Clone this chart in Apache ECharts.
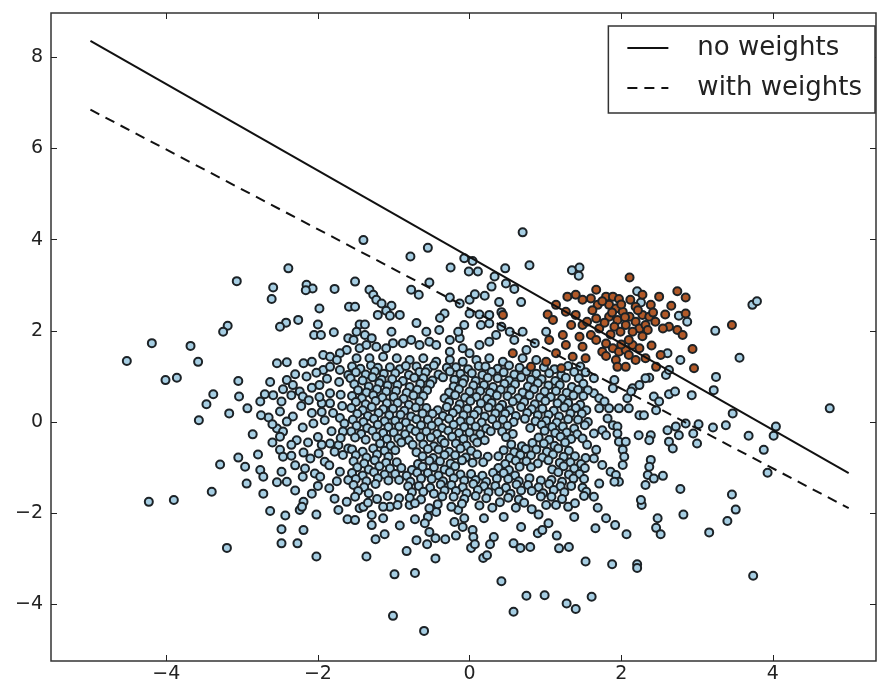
<!DOCTYPE html>
<html><head><meta charset="utf-8">
<script src="https://cdn.jsdelivr.net/npm/echarts@6/dist/echarts.min.js"></script>
<style>html,body{margin:0;padding:0;background:#fff}#c{width:878px;height:686px}</style>
</head><body><div id="c"></div>
<script>
const xTicks = [-4, -2, 0, 2, 4];
const yTicks = [-4, -2, 0, 2, 4, 6, 8];
const lineX = [-5, 5];
const noWeights = [8.36, -1.12];
const withWeights = [6.85, -1.89];
const seriesNames = ['no weights', 'with weights'];

const bluePoints = [
[-2.39,3.37],[-3.07,3.09],[-2.59,2.95],[-2.61,2.70],[-2.15,3.01],[-2.07,2.93],[-2.16,2.89],[-1.78,2.92],[-1.98,2.49],[-2.26,2.24],[-2.42,2.18],[-2.50,2.09],[-2.00,2.14],[-2.05,1.91],[-1.96,1.91],[-1.79,1.97],[-3.19,2.11],[-3.25,1.98],[-4.19,1.73],[-3.68,1.67],[-4.52,1.34],[-3.58,1.32],[-1.60,1.84],[-1.62,1.58],[-1.71,1.51],[-1.93,1.47],[-1.84,1.43],[-1.75,1.36],[-2.54,1.29],[-2.41,1.31],[-2.19,1.29],[-2.08,1.32],[-1.59,2.53],
[-4.01,0.92],[-3.86,0.97],[-3.05,0.90],[-3.38,0.61],[-3.47,0.39],[-3.04,0.56],[-3.57,0.04],[-3.17,0.19],[-2.93,0.30],[-2.86,-0.27],[-2.76,0.45],[-2.70,0.61],[-2.59,0.59],[-2.63,0.88],[-2.46,0.72],[-2.41,0.92],[-2.33,0.81],[-2.35,0.59],[-2.24,0.67],[-2.20,0.56],[-2.08,0.75],[-1.98,0.81],[-1.93,1.14],[-1.84,1.21],[-1.71,1.14],[-1.60,1.03],
[-1.84,0.63],[-1.95,0.41],[-1.84,0.41],[-2.50,0.23],[-2.33,0.12],[-2.41,0.01],[-2.54,-0.14],[-2.46,-0.21],[-2.50,-0.32],[-2.28,-0.40],[-2.06,-0.03],[-1.91,0.04],[-1.71,0.09],[-1.65,-0.03],[-1.67,-0.21],[-1.84,-0.47],[-1.73,-0.51],[-1.78,-0.65],[-1.67,-0.72],[-1.60,-0.58],[-3.05,-0.78],[-2.96,-0.98],[-2.79,-0.71],[-2.76,-1.05],[-2.72,-1.20],[-3.29,-0.93],[-2.50,-0.61],[-2.46,-0.76],[-2.35,-0.74],[-2.48,-1.09],[-2.54,-1.32],[-2.41,-1.31],[-2.19,-0.67],[-2.10,-0.80],[-1.99,-0.69],[-1.91,-0.87],[-2.17,-1.02],[-2.04,-1.13],[-1.97,-1.20],[-1.71,-1.09],[-1.60,-1.27],[-2.94,-1.35],[-3.40,-1.53],[-2.72,-1.57],[-4.23,-1.75],[-3.90,-1.71],[-2.08,-1.57],[-2.19,-1.75],[-1.78,-1.68],[-1.62,-1.75],
[-2.30,1.05],[-2.15,1.00],[-2.02,1.08],[-1.88,0.95],[-1.72,0.88],[-2.48,0.45],[-2.12,0.48],[-1.98,0.55],[-1.70,0.60],[-1.68,0.35],[-2.22,0.35],[-2.08,0.20],[-1.95,0.22],[-1.80,0.20],[-2.20,-0.12],[-1.82,-0.20],[-2.00,-0.33],[-2.13,-0.45],[-1.95,-0.50],[-2.35,-0.50],[-2.60,-0.45],[-2.30,-0.95],[-2.20,-1.20],[-1.85,-0.95],[-1.75,-1.30],[-1.85,-1.45],[-2.30,-1.50],[-2.00,-1.40],[-1.70,-0.35],[-2.65,0.10],[-2.75,0.15],[-2.60,-0.05],
[-2.63,-1.95],[-2.43,-2.05],[-2.24,-1.93],[-2.21,-1.86],[-2.02,-2.03],[-1.73,-1.93],[-1.61,-2.13],[-2.48,-2.35],[-2.19,-2.37],[-2.48,-2.66],[-2.27,-2.66],[-3.20,-2.76],[-2.02,-2.95],
[-1.36,-2.95],[-0.99,-3.34],[-0.72,-3.31],[-1.01,-4.25],[-0.60,-4.58],[-0.83,-2.83],[-0.45,-2.99],[-1.24,-2.57],[-1.12,-2.46],[-0.92,-2.27],[-0.70,-2.59],[-0.56,-2.68],[-0.45,-2.55],[-0.32,-2.57],[-0.18,-2.49],[-0.72,-2.13],[-0.55,-2.08],[-0.44,-1.97],[-0.59,-2.22],[-0.53,-2.41],[-1.45,-1.89],[-1.51,-2.15],[-1.29,-2.26],[-1.14,-2.11],[-1.29,-2.04],[-1.05,-1.86],[-0.20,-2.19],[-0.09,-2.30],[-0.07,-2.11],[-0.15,-1.93],[0.04,-2.37],[0.05,-2.52],[0.02,-2.76],[0.07,-2.68],[0.18,-2.98],[0.23,-2.92],[0.19,-2.11],[0.30,-1.88],[0.45,-2.08],[0.61,-1.88],[0.32,-2.52],[0.27,-2.68],[0.42,-3.49],[0.58,-4.16],[0.58,-2.66],[0.67,-2.76],[0.80,-2.74],[0.68,-2.30],[0.75,-3.81],[0.99,-3.80],[0.82,-1.91],[0.91,-2.03],[0.90,-2.44],[0.96,-2.37],[1.04,-2.22],[1.15,-2.49],[1.18,-2.77],[1.31,-2.74],[1.28,-3.98],[1.40,-4.10],[1.61,-3.83],[1.38,-2.08],[1.53,-3.06],[1.69,-1.88],[1.66,-2.33],[1.80,-2.11],[1.92,-2.26],[2.07,-2.46],[1.88,-3.12],[2.21,-3.12],[2.21,-3.20],[2.27,-1.82],[2.48,-2.11],[2.46,-2.32],[2.52,-2.46],[2.82,-2.03],[3.16,-2.42],[3.40,-2.17],[3.51,-1.92],[3.74,-3.37],
[-1.40,-1.86],[-1.14,-1.86],[-0.79,-1.82],[-0.53,-1.89],[-0.24,-1.86],[1.14,-1.82],[1.30,-1.86],
[3.25,0.99],[3.22,0.70],[2.93,0.59],[2.63,0.61],[2.71,0.67],[2.43,0.56],[2.50,0.45],[2.46,0.26],[2.37,0.97],[2.59,1.03],[2.63,1.14],[3.47,0.19],[3.38,-0.07],[3.21,-0.12],[4.04,-0.10],[4.01,-0.30],[3.68,-0.30],[3.88,-0.61],[3.93,-1.11],[4.75,0.30],[3.46,-1.59],[2.78,-1.47],[2.26,-1.71],[2.85,-0.03],[2.72,-0.10],[2.61,-0.18],[2.63,-0.43],[2.68,-0.58],[2.76,-0.29],[2.95,-0.25],[3.02,-0.05],[3.00,-0.47],[2.23,-0.29],[2.39,-0.29],[2.37,-0.40],[2.39,-0.83],[2.37,-0.98],[2.35,-1.16],[2.43,-1.24],[2.55,-1.18],[2.32,-1.38],
[1.64,0.96],[1.91,0.92],[1.89,0.74],[1.64,0.63],[1.71,0.52],[1.78,0.45],[2.15,0.74],[2.24,0.81],[2.08,0.52],[2.13,0.67],[2.32,0.96],[1.71,0.30],[1.84,0.30],[1.97,0.30],[2.10,0.30],[2.24,0.15],[1.82,0.08],[2.30,0.15],[1.89,-0.07],[1.95,-0.10],[1.75,-0.18],[1.64,-0.25],[1.80,-0.29],[1.95,-0.25],[1.97,-0.43],[2.06,-0.43],[2.02,-0.61],[2.04,-0.76],[1.67,-0.61],[1.64,-0.80],[1.75,-0.94],[1.86,-1.09],[1.93,-1.16],[1.97,-1.31],[1.91,-1.31],[1.71,-1.35],[1.64,-1.64],[2.02,-0.94],
[2.21,2.87],[2.26,2.62],[3.73,2.57],[3.79,2.65],[3.24,2.00],[2.87,2.20],[2.76,2.33],[3.56,1.41],[2.61,1.51],[2.78,1.36],
[0.70,4.16],[-1.40,3.99],[-0.55,3.82],[-0.78,3.63],[-0.07,3.59],[0.04,3.53],[-0.25,3.39],[-0.01,3.30],[0.11,3.30],[0.79,3.44],[0.47,3.37],[1.35,3.33],[1.45,3.39],[1.44,3.21],[0.33,3.19],[0.48,3.04],[0.29,2.97],[0.59,2.92],[-1.51,3.08],[-0.53,3.06],[-0.77,2.90],[-0.67,2.79],[-1.32,2.90],[-1.27,2.79],[-1.23,2.68],[-1.16,2.60],[-1.51,2.53],[-1.03,2.55],[-1.10,2.44],[-1.21,2.35],[-1.05,2.33],[-0.92,2.35],[-0.26,2.73],[-0.13,2.60],[0.00,2.68],[0.07,2.80],[0.20,2.77],[-0.33,2.38],[-0.39,2.28],[0.00,2.38],[0.13,2.36],[0.26,2.35],[0.39,2.63],[0.42,2.41],[0.68,2.63],[-0.70,2.17],[-1.03,1.98],
[-1.45,2.14],[-1.38,2.14],[-1.49,1.98],[-1.38,1.91],[-1.29,1.84],[-1.53,1.80],[-1.45,1.62],[-1.36,1.69],[-1.23,1.65],[-1.10,1.62],[-1.01,1.73],[-0.88,1.73],[-0.77,1.80],[-0.66,1.69],[-0.53,1.76],[-0.44,1.69],[-0.26,1.80],[-0.13,1.84],[-0.26,1.54],[-0.09,1.62],[0.00,1.51],[0.13,1.69],[0.26,1.76],[0.35,1.91],[0.15,2.13],[0.26,2.16],[0.42,2.09],[0.53,1.98],[0.59,1.80],[0.70,1.98],[0.86,1.73],[0.75,1.58],[1.01,1.98],[-0.15,1.98],[-0.07,2.13],[-0.40,2.02],[-0.57,1.98],
[-1.49,1.40],[-1.32,1.40],[-1.14,1.43],[-0.96,1.40],[-0.79,1.36],[-0.61,1.40],[-0.44,1.32],[-0.26,1.36],[-0.09,1.32],[0.09,1.36],[0.26,1.40],[0.44,1.32],[0.70,1.40],[0.88,1.36],
[-1.55,1.22],[-1.44,1.17],[-1.30,1.24],[-1.21,1.19],[-1.05,1.20],[-0.92,1.16],[-0.84,1.23],[-0.70,1.22],[-0.55,1.17],[-0.47,1.24],[-0.30,1.19],[-0.18,1.20],[-0.02,1.16],[0.12,1.23],[0.21,1.22],[0.37,1.17],[0.52,1.24],[0.66,1.19],[0.98,1.20],[1.12,1.16],[1.30,1.23],[1.46,1.22],
[-1.50,1.09],[-1.37,1.04],[-1.25,1.11],[-1.13,1.06],[-0.98,1.07],[-0.80,1.03],[-0.66,1.10],[-0.58,1.09],[-0.41,1.04],[-0.26,1.11],[-0.12,1.06],[0.03,1.07],[0.17,1.03],[0.29,1.10],[0.45,1.09],[0.59,1.04],[0.75,1.11],[0.88,1.06],[1.05,1.07],[1.21,1.03],[1.38,1.10],[1.53,1.09],
[-1.57,0.96],[-1.41,0.91],[-1.28,0.98],[-1.16,0.93],[-1.02,0.94],[-0.88,0.90],[-0.73,0.97],[-0.61,0.96],[-0.49,0.91],[-0.35,0.98],[-0.20,0.93],[-0.07,0.94],[0.08,0.90],[0.24,0.97],[0.37,0.96],[0.52,0.91],[0.68,0.98],[0.81,0.93],[0.95,0.94],[1.13,0.90],[1.27,0.97],[1.44,0.96],
[-1.52,0.83],[-1.33,0.78],[-1.19,0.85],[-1.08,0.80],[-0.95,0.81],[-0.79,0.77],[-0.65,0.84],[-0.52,0.83],[-0.21,0.78],[-0.09,0.85],[0.05,0.80],[0.19,0.81],[0.31,0.77],[0.46,0.84],[0.60,0.83],[0.77,0.78],[0.90,0.85],[1.04,0.80],[1.19,0.81],[1.35,0.77],[1.50,0.84],
[-1.47,0.70],[-1.36,0.65],[-1.22,0.72],[-1.10,0.67],[-0.97,0.68],[-0.83,0.64],[-0.69,0.71],[-0.56,0.70],[-0.27,0.65],[-0.14,0.72],[0.00,0.67],[0.14,0.68],[0.27,0.64],[0.41,0.71],[0.55,0.70],[0.70,0.65],[0.85,0.72],[0.99,0.67],[1.14,0.68],[1.28,0.64],[1.43,0.71],[1.56,0.70],
[-1.55,0.57],[-1.42,0.52],[-1.27,0.59],[-1.15,0.54],[-1.00,0.55],[-0.87,0.51],[-0.74,0.58],[-0.61,0.57],[-0.33,0.52],[-0.19,0.59],[-0.06,0.54],[0.09,0.55],[0.23,0.51],[0.36,0.58],[0.50,0.57],[0.64,0.52],[0.79,0.59],[0.93,0.54],[1.07,0.55],[1.22,0.51],[1.37,0.58],[1.50,0.57],
[-1.50,0.44],[-1.37,0.39],[-1.24,0.46],[-1.09,0.41],[-0.95,0.42],[-0.80,0.38],[-0.66,0.45],[-0.27,0.44],[-0.13,0.39],[0.01,0.46],[0.15,0.41],[0.29,0.42],[0.43,0.38],[0.57,0.45],[0.72,0.44],[0.86,0.39],[1.00,0.46],[1.16,0.41],[1.30,0.42],[1.46,0.38],
[-1.56,0.31],[-1.41,0.26],[-1.29,0.33],[-1.14,0.28],[-1.01,0.29],[-0.86,0.25],[-0.71,0.32],[-0.57,0.31],[-0.42,0.26],[-0.30,0.33],[-0.16,0.28],[-0.03,0.29],[0.11,0.25],[0.25,0.32],[0.39,0.31],[0.53,0.26],[0.68,0.33],[0.82,0.28],[0.96,0.29],[1.11,0.25],[1.25,0.32],[1.40,0.31],[1.54,0.26],
[-1.48,0.18],[-1.34,0.13],[-1.20,0.20],[-1.06,0.15],[-0.91,0.16],[-0.77,0.12],[-0.62,0.19],[-0.49,0.18],[-0.35,0.13],[-0.22,0.20],[-0.08,0.15],[0.06,0.16],[0.20,0.12],[0.34,0.19],[0.47,0.18],[0.61,0.13],[0.76,0.20],[0.90,0.15],[1.04,0.16],[1.18,0.12],[1.33,0.19],[1.48,0.18],
[-1.54,0.05],[-1.40,0.00],[-1.26,0.07],[-1.12,0.02],[-0.98,0.03],[-0.84,-0.01],[-0.70,0.06],[-0.55,0.05],[-0.41,0.00],[-0.27,0.07],[-0.12,0.02],[0.01,0.03],[0.16,-0.01],[0.30,0.06],[0.44,0.05],[0.58,0.00],[0.73,0.07],[0.87,0.02],[1.01,0.03],[1.15,-0.01],[1.30,0.06],[1.43,0.05],[1.56,0.00],
[-1.49,-0.08],[-1.35,-0.13],[-1.21,-0.06],[-1.07,-0.11],[-0.93,-0.10],[-0.78,-0.14],[-0.64,-0.07],[-0.50,-0.08],[-0.36,-0.13],[-0.21,-0.06],[-0.07,-0.11],[0.08,-0.10],[0.22,-0.14],[0.36,-0.07],[0.50,-0.08],[0.80,-0.13],[0.95,-0.06],[1.09,-0.11],[1.23,-0.10],[1.38,-0.14],[1.52,-0.07],
[-1.56,-0.21],[-1.43,-0.26],[-1.28,-0.19],[-1.14,-0.24],[-1.00,-0.23],[-0.85,-0.27],[-0.71,-0.20],[-0.57,-0.21],[-0.43,-0.26],[-0.28,-0.19],[-0.14,-0.24],[0.00,-0.23],[0.14,-0.27],[0.28,-0.20],[0.43,-0.21],[0.57,-0.26],[0.99,-0.19],[1.13,-0.24],[1.28,-0.23],[1.42,-0.27],
[-1.51,-0.34],[-1.37,-0.39],[-1.23,-0.32],[-1.09,-0.37],[-0.94,-0.36],[-0.80,-0.40],[-0.65,-0.33],[-0.51,-0.34],[-0.37,-0.39],[-0.23,-0.32],[-0.08,-0.37],[0.06,-0.36],[0.20,-0.40],[0.48,-0.33],[0.91,-0.34],[1.05,-0.39],[1.20,-0.32],[1.34,-0.37],[1.49,-0.36],
[-1.18,-0.47],[-1.04,-0.52],[-0.90,-0.45],[-0.75,-0.50],[-0.61,-0.49],[-0.47,-0.53],[-0.33,-0.46],[-0.18,-0.47],[-0.04,-0.52],[0.10,-0.45],[0.55,-0.49],[0.69,-0.53],[0.83,-0.46],[0.98,-0.47],[1.12,-0.52],[1.26,-0.45],[1.55,-0.50],
[-1.55,-0.60],[-1.41,-0.65],[-1.27,-0.58],[-1.12,-0.63],[-0.98,-0.62],[-0.70,-0.66],[-0.55,-0.59],[-0.41,-0.60],[-0.27,-0.65],[-0.12,-0.58],[0.02,-0.63],[0.45,-0.62],[0.59,-0.66],[0.74,-0.59],[0.88,-0.60],[1.02,-0.65],[1.17,-0.58],[1.31,-0.63],
[-1.50,-0.73],[-1.36,-0.78],[-1.22,-0.71],[-1.07,-0.76],[-0.62,-0.75],[-0.48,-0.79],[-0.33,-0.72],[-0.19,-0.73],[-0.05,-0.78],[0.10,-0.71],[0.24,-0.76],[0.38,-0.75],[0.53,-0.79],[0.67,-0.72],[0.81,-0.73],[0.96,-0.78],[1.10,-0.71],[1.24,-0.76],[1.39,-0.75],[1.53,-0.79],
[-1.53,-0.86],[-1.39,-0.91],[-1.25,-0.84],[-1.10,-0.89],[-0.96,-0.88],[-0.68,-0.92],[-0.53,-0.85],[-0.39,-0.86],[-0.25,-0.91],[-0.10,-0.84],[0.04,-0.89],[0.18,-0.88],[0.47,-0.92],[0.61,-0.85],[0.75,-0.86],[0.90,-0.91],[1.04,-0.84],[1.19,-0.89],[1.33,-0.88],[1.47,-0.92],
[-1.48,-0.99],[-1.33,-1.04],[-1.19,-0.97],[-1.05,-1.02],[-0.90,-1.01],[-0.76,-1.05],[-0.62,-0.98],[-0.47,-0.99],[-0.33,-1.04],[-0.19,-0.97],[0.38,-1.01],[0.52,-1.05],[0.66,-0.98],[0.81,-0.99],[1.09,-1.04],[1.24,-0.97],[1.38,-1.02],[1.52,-1.01],
[-1.55,-1.12],[-1.41,-1.17],[-1.26,-1.10],[-1.12,-1.15],[-0.98,-1.14],[-0.83,-1.18],[-0.69,-1.11],[-0.55,-1.12],[-0.41,-1.17],[-0.26,-1.10],[-0.12,-1.15],[0.02,-1.14],[0.17,-1.18],[0.31,-1.11],[0.45,-1.12],[0.60,-1.17],[1.17,-1.10],[1.31,-1.15],[1.45,-1.14],
[-1.50,-1.25],[-1.36,-1.30],[-1.21,-1.23],[-1.07,-1.28],[-0.93,-1.27],[-0.78,-1.31],[-0.64,-1.24],[-0.50,-1.25],[-0.35,-1.30],[-0.21,-1.23],[-0.07,-1.28],[0.08,-1.27],[0.22,-1.31],[0.36,-1.24],[0.51,-1.25],[0.65,-1.30],[0.79,-1.23],[0.94,-1.28],[1.08,-1.27],[1.22,-1.31],[1.37,-1.24],[1.51,-1.25],
[-1.53,-1.38],[-1.39,-1.43],[-1.24,-1.36],[-0.81,-1.41],[-0.67,-1.40],[-0.52,-1.44],[-0.38,-1.37],[-0.24,-1.38],[-0.09,-1.43],[0.05,-1.36],[0.19,-1.41],[0.34,-1.40],[0.48,-1.44],[0.62,-1.37],[0.77,-1.38],[0.91,-1.43],[1.05,-1.36],[1.20,-1.41],[1.34,-1.40],[1.49,-1.44],
[-1.47,-1.51],[-1.33,-1.56],[-0.76,-1.54],[-0.61,-1.53],[-0.47,-1.57],[-0.33,-1.50],[-0.18,-1.51],[-0.04,-1.56],[0.11,-1.49],[0.25,-1.54],[0.39,-1.53],[0.54,-1.57],[0.68,-1.50],[0.82,-1.51],[0.97,-1.56],[1.11,-1.49],[1.25,-1.54],[1.54,-1.53],
[-1.51,-1.64],[-1.22,-1.69],[-1.08,-1.62],[-0.93,-1.67],[-0.79,-1.66],[-0.64,-1.70],[-0.36,-1.63],[-0.21,-1.64],[-0.07,-1.69],[0.08,-1.62],[0.22,-1.67],[0.51,-1.66],[0.65,-1.70],[0.94,-1.63],[1.08,-1.64],[1.22,-1.69],[1.51,-1.62],
[-1.34,-1.77],[-0.95,-1.82],[-0.72,-1.78],[-0.42,-1.80],[-0.10,-1.79],[0.13,-1.83],[0.40,-1.76],[0.72,-1.77],[1.01,-1.82],[1.39,-1.78]
];

const orangePoints = [
[1.60,2.71],[1.69,2.57],[1.80,2.75],[1.89,2.75],[1.97,2.70],[1.84,2.57],[1.93,2.49],[2.02,2.42],[2.11,2.31],[1.84,2.31],[1.95,2.24],[1.67,2.27],[1.91,2.09],[1.99,1.98],[2.06,2.13],[2.19,2.20],[2.24,2.05],[2.32,2.13],[2.28,2.35],[2.19,2.53],[2.28,2.79],[2.39,2.57],[2.37,2.31],[2.35,2.02],[2.15,1.98],[1.60,1.91],[1.71,2.05],
[1.67,1.80],[1.80,1.72],[1.89,1.62],[1.97,1.54],[2.06,1.58],[2.15,1.69],[2.24,1.62],[2.10,1.47],[1.93,1.36],[2.19,1.36],[2.32,1.40],[1.75,1.54],
[2.11,3.17],[1.67,2.90],[2.58,2.36],[2.74,2.87],[2.85,2.73],[2.63,2.09],[2.74,2.02],[2.81,1.91],[2.94,1.60],[3.46,2.13],[2.85,2.38],[2.52,1.47],
[2.46,1.21],[2.96,1.18],[1.95,1.21],[2.06,1.21],[0.81,1.21],[1.21,1.18],
[1.29,2.75],[1.40,2.79],[1.49,2.68],[1.14,2.57],[1.03,2.36],[1.10,2.24],[0.44,2.35],[1.27,2.42],[1.40,2.35],[1.49,2.13],[1.34,2.13],[1.23,1.91],[1.45,1.87],[1.05,1.80],[1.27,1.69],[1.49,1.65],[0.57,1.51],[1.01,1.32],[1.14,1.51],[1.36,1.43],[1.53,1.40],
[1.75,2.65],[1.88,2.40],[2.00,2.58],[2.12,2.68],[2.22,2.45],[2.05,2.30],[1.78,2.18],[1.86,1.92],[2.10,1.80],[2.28,1.88],[2.42,2.40],[2.45,2.20],[1.62,2.45],[1.55,2.20],[2.00,1.70],[1.80,1.45],[2.40,1.68],[2.55,2.05],[2.66,2.55],[2.50,2.75]
];

const fmt = v => String(v).replace('-', '\u2212');
const font = 'DejaVu Sans';
const xMin = -5.52, xMax = 5.36, yMin = -5.24, yMax = 8.97;

const chart = echarts.init(document.getElementById('c'));
const tickStyle = {inside: true, length: 6, lineStyle: {color: '#222', width: 1}};
const noLine = {show: false, onZero: false};
chart.setOption({
  animation: false,
  backgroundColor: '#fff',
  grid: {left: 51, right: 2, top: 13, bottom: 25, show: true, borderColor: '#333', borderWidth: 1.5, backgroundColor: 'transparent'},
  legend: {
    data: seriesNames, orient: 'vertical', right: 3, top: 26,
    padding: [9, 13, 12, 18], itemGap: 14, itemWidth: 41, itemHeight: 14,
    borderColor: '#333', borderWidth: 1.5, backgroundColor: '#fff',
    itemStyle: {opacity: 0},
    textStyle: {fontSize: 26, fontFamily: font, color: '#222', padding: [0, 0, 0, 24]}
  },
  xAxis: [
    {type: 'value', min: xMin, max: xMax, position: 'bottom', axisLine: noLine, splitLine: {show: false},
     axisTick: Object.assign({customValues: xTicks}, tickStyle),
     axisLabel: {customValues: xTicks, formatter: fmt, fontSize: 19, fontFamily: font, color: '#222', margin: 4}},
    {type: 'value', min: xMin, max: xMax, position: 'top', axisLine: noLine, splitLine: {show: false},
     axisTick: Object.assign({customValues: xTicks}, tickStyle), axisLabel: {show: false}}
  ],
  yAxis: [
    {type: 'value', min: yMin, max: yMax, position: 'left', axisLine: noLine, splitLine: {show: false},
     axisTick: Object.assign({customValues: yTicks}, tickStyle),
     axisLabel: {customValues: yTicks, formatter: fmt, fontSize: 19, fontFamily: font, color: '#222', margin: 8}},
    {type: 'value', min: yMin, max: yMax, position: 'right', axisLine: noLine, splitLine: {show: false},
     axisTick: Object.assign({customValues: yTicks}, tickStyle), axisLabel: {show: false}}
  ],
  series: [
    {name: 'class 0', type: 'scatter', data: bluePoints, symbolSize: 8, z: 2,
     itemStyle: {color: '#a6cee3', borderColor: '#1c2226', borderWidth: 2, opacity: 1}},
    {name: 'class 1', type: 'scatter', data: orangePoints, symbolSize: 8, z: 3,
     itemStyle: {color: '#b15928', borderColor: '#1c2226', borderWidth: 2, opacity: 1}},
    {name: seriesNames[0], type: 'line', data: lineX.map((x, i) => [x, noWeights[i]]), symbol: 'none', z: 5,
     lineStyle: {color: '#111', width: 2, type: 'solid'}, itemStyle: {color: '#111'}},
    {name: seriesNames[1], type: 'line', data: lineX.map((x, i) => [x, withWeights[i]]), symbol: 'none', z: 5,
     lineStyle: {color: '#111', width: 2, type: [10, 7]}, itemStyle: {color: '#111'}}
  ]
});
</script></body></html>
